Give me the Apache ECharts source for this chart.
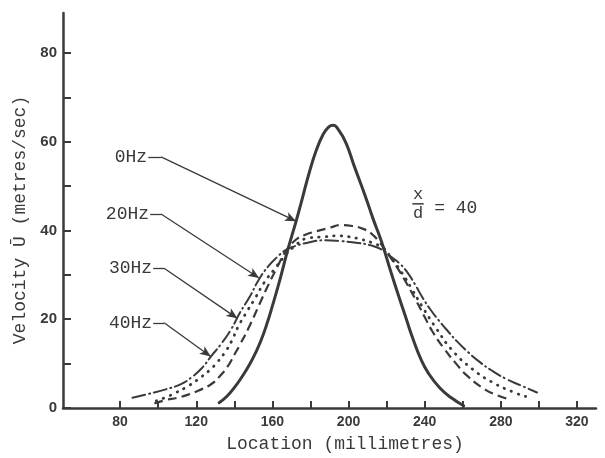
<!DOCTYPE html>
<html><head><meta charset="utf-8">
<script src="https://cdn.jsdelivr.net/npm/echarts@6/dist/echarts.min.js"></script>
<style>html,body{margin:0;padding:0;background:#fff}#c{width:605px;height:458px}</style>
</head><body><div id="c"></div>
<script>
// ---- data (location mm, velocity m/s) ----
const hz0 = [[132,1.2],[136,2.6],[140,4.6],[144,7],[148,9.8],[151,12.3],[154,15.2],[157,18.8],[160,23],[164,29],[168,35.5],[172.4,42],[175.6,47],[179,52.5],[183,58],[186.5,61.5],[189.5,63.3],[192,63.7],[195,62.5],[198.7,59.7],[203,54.5],[209,47.5],[213,42.5],[217.3,37.5],[222,31],[226.5,25],[230,20.5],[233.5,16],[238,11],[242,7.8],[248,4.5],[254,2.3],[260.5,0.5]];
const hz20 = [[98,1],[104,1.8],[110,2.3],[115,2.9],[121,3.9],[127.6,5.3],[132,7],[136.4,9.3],[140,12],[143,14.3],[147.8,18.3],[153,23.2],[157.4,27.3],[162.6,31.8],[167,35.3],[172,37.8],[177,39],[183,39.8],[190,40.6],[196,41.2],[202,41],[208,40.3],[212,39.3],[216,37.5],[220,35.2],[226.5,31],[231,27.7],[235.5,24.2],[240,20.5],[244,17.3],[250,13.5],[256.5,10],[263,7],[272,4.1],[278,2.9],[284,2]];
const hz30 = [[99,1.6],[104,2.4],[109,3.4],[116,5],[122,6.8],[127,8.5],[131,10.3],[135,12.5],[138.5,15],[142,18.3],[147,22],[151.3,25],[155.6,28.2],[160.9,31.2],[166,34],[171,36.2],[178,38.2],[188,38.6],[194,38.8],[200,38.6],[206.5,38],[212,37.3],[218,36],[223,33.5],[228,30.5],[233,27],[238.5,23],[246,18],[254.5,13],[265,8.8],[275.5,5.8],[287,3.5],[293,2.6]];
const hz40 = [[86.5,2.3],[95,3.2],[104,4.2],[112,5.4],[117.5,6.9],[123,9],[127.7,11.6],[133,14.4],[138,17.5],[143,21.5],[148,25],[153,29],[158,32],[162.5,34],[167,35.6],[172,36.5],[178,37.2],[188,37.8],[196,37.6],[205,37.2],[212,36.6],[217,35.8],[222,34.2],[227,32.5],[231,30.5],[235,27.8],[239,24.8],[243,22.2],[247.5,19.7],[252,17.4],[257,15],[263,12.5],[268.5,10.5],[275,8.5],[283,6.5],[291,5],[299,3.5]];
const seriesNames = ['0Hz','20Hz','30Hz','40Hz'];
const xTickValues = [80,100,120,140,160,180,200,220,240,260,280,300,320];
const xLabelValues = [80,120,160,200,240,280,320];
const yTickValues = [0,10,20,30,40,50,60,70,80];
const yLabelValues = [0,20,40,60,80];

// ---- annotations (data coordinates) ----
const annLabelAt = [[94.2,56.6],[95.2,43.7],[96.8,31.5],[96.8,19.2]];
const annCornerX = [101.5,101.5,103.1,103.1];
const annTip = [[172.4,42.1],[153,29.3],[141.6,20.2],[127.6,11.6]];

const INK = '#3a3a3a';
const MONO = '"Liberation Mono","DejaVu Sans Mono",monospace';
const SANS = '"Liberation Sans","DejaVu Sans",sans-serif';

const chart = echarts.init(document.getElementById('c'), null, {renderer:'canvas'});

const mlData = [];
annLabelAt.forEach((p,i)=>{
  mlData.push([{coord:[p[0]+0.6,p[1]],symbol:'none'},{coord:[annCornerX[i],p[1]],symbol:'none'}]);
  mlData.push([{coord:[annCornerX[i],p[1]],symbol:'none'},{coord:annTip[i],symbol:'arrow'}]);
});

const lineBase = {type:'line', symbol:'none', smooth:0.5, silent:true, animation:false};
chart.setOption({
  animation:false,
  backgroundColor:'#fff',
  grid:{left:63,right:9,top:13,bottom:50},
  xAxis:{type:'value',min:50,max:330,
    name:'Location (millimetres)',nameLocation:'middle',nameGap:27,
    nameTextStyle:{fontFamily:MONO,fontSize:18,color:INK,padding:[0,0,0,31]},
    axisLine:{lineStyle:{color:INK,width:2.5}},
    axisTick:{inside:true,length:7,lineStyle:{color:INK,width:2},customValues:xTickValues},
    axisLabel:{customValues:xLabelValues,fontFamily:SANS,fontWeight:'bold',fontSize:14,color:INK,margin:7},
    splitLine:{show:false}},
  yAxis:{type:'value',min:0,max:89,
    name:'Velocity Ū (metres/sec)',nameLocation:'middle',nameGap:24,nameRotate:90,
    nameTextStyle:{fontFamily:MONO,fontSize:18,color:INK,padding:[0,19,0,0]},
    axisLine:{lineStyle:{color:INK,width:2.5}},
    axisTick:{inside:true,length:8,lineStyle:{color:INK,width:2},customValues:yTickValues},
    axisLabel:{customValues:yLabelValues,fontFamily:SANS,fontWeight:'bold',fontSize:15,color:INK,margin:6},
    splitLine:{show:false}},
  series:[
    Object.assign({},lineBase,{name:seriesNames[0],data:hz0,z:5,
      lineStyle:{color:INK,width:3,cap:'round',join:'round'},
      markLine:{silent:true,animation:false,symbolSize:[7,11],label:{show:false},emphasis:{disabled:true},
        lineStyle:{color:INK,width:1.3,type:'solid'},data:mlData}}),
    Object.assign({},lineBase,{name:seriesNames[1],data:hz20,
      lineStyle:{color:INK,width:2.2,type:[9,5]}}),
    Object.assign({},lineBase,{name:seriesNames[2],data:hz30,
      lineStyle:{color:INK,width:2.8,type:[0.5,7],cap:'round'}}),
    Object.assign({},lineBase,{name:seriesNames[3],data:hz40,
      lineStyle:{color:INK,width:2,type:[13,4,1,4],cap:'round'}})
  ]
});

function px(p){return chart.convertToPixel({xAxisIndex:0,yAxisIndex:0},p);}
const g = [];
annLabelAt.forEach((p,i)=>{
  const q = px(p);
  g.push({type:'text',x:q[0],y:q[1],style:{text:seriesNames[i],fill:INK,font:'18px '+MONO,align:'right',verticalAlign:'middle'}});
});
const xq = px([236.5,48.2]), dq = px([236.5,43.9]), bl = px([233.5,46]), br = px([239.5,46]), eq = px([245,45.1]);
g.push({type:'text',x:xq[0],y:xq[1],style:{text:'x',fill:INK,font:'17px '+MONO,align:'center',verticalAlign:'middle'}});
g.push({type:'text',x:dq[0],y:dq[1],style:{text:'d',fill:INK,font:'17px '+MONO,align:'center',verticalAlign:'middle'}});
g.push({type:'line',shape:{x1:bl[0],y1:bl[1],x2:br[0],y2:br[1]},style:{stroke:INK,lineWidth:1.5}});
g.push({type:'text',x:eq[0],y:eq[1],style:{text:'= 40',fill:INK,font:'18px '+MONO,align:'left',verticalAlign:'middle'}});
chart.setOption({graphic:g});
</script></body></html>
